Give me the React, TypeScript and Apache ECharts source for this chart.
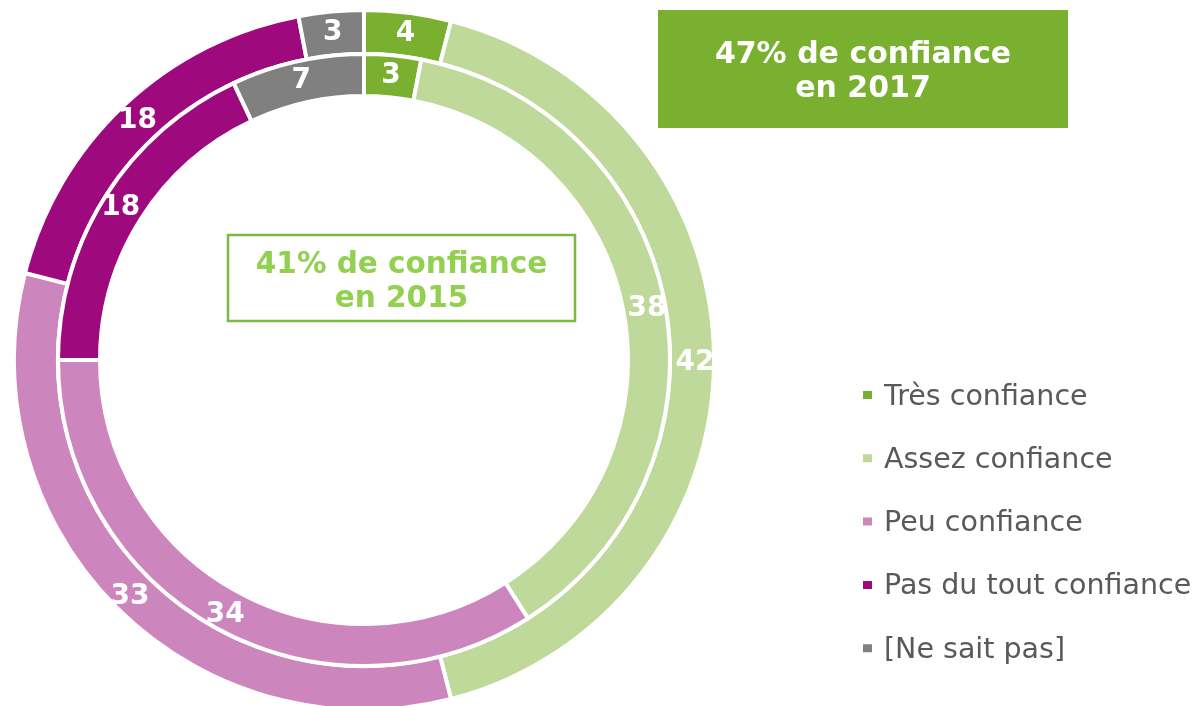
import React, { useEffect, useRef } from "react";
import * as echarts from "echarts";

const categories = ["Très confiance", "Assez confiance", "Peu confiance", "Pas du tout confiance", "[Ne sait pas]"];
const values2017 = [4, 42, 33, 18, 3];
const values2015 = [3, 38, 34, 18, 7];
const colors = ["#7AB030", "#BFD99B", "#CD85BE", "#9E0A7D", "#808080"];
const box2017 = ["47% de confiance", "en 2017"];
const box2015 = ["41% de confiance", "en 2015"];

const FONT = "DejaVu Sans";

export default function App() {
  const ref = useRef<HTMLDivElement>(null);
  useEffect(() => {
    if (!ref.current) return;
    const chart = echarts.init(ref.current, undefined, { renderer: "svg" });
    const mk = (vals: number[]) =>
      categories.map((n, i) => ({ name: n, value: vals[i], itemStyle: { color: colors[i] } }));
    const label = {
      show: true,
      position: "inside",
      formatter: "{c}",
      color: "#ffffff",
      fontSize: 28,
      fontWeight: "bold",
      fontFamily: FONT,
    };
    chart.setOption({
      animation: false,
      legend: {
        orient: "vertical",
        left: 856,
        top: 375,
        itemWidth: 11,
        itemHeight: 10,
        itemGap: 33.3,
        icon: "rect",
        selectedMode: false,
        textStyle: { fontSize: 28.5, color: "#595959", fontFamily: FONT, lineHeight: 30, padding: [0, 0, 0, 6] },
        data: categories,
      },
      series: [
        {
          name: "2017",
          type: "pie",
          center: [364, 360],
          radius: [306, 350],
          startAngle: 90,
          clockwise: true,
          avoidLabelOverlap: false,
          itemStyle: { borderColor: "#ffffff", borderWidth: 4 },
          label,
          labelLine: { show: false },
          emphasis: { disabled: true },
          data: mk(values2017),
        },
        {
          name: "2015",
          type: "pie",
          center: [364, 360],
          radius: [264, 306],
          startAngle: 90,
          clockwise: true,
          avoidLabelOverlap: false,
          itemStyle: { borderColor: "#ffffff", borderWidth: 4 },
          label,
          labelLine: { show: false },
          emphasis: { disabled: true },
          data: mk(values2015),
        },
      ],
      graphic: [
        { type: "rect", shape: { x: 658, y: 10, width: 410, height: 118 }, style: { fill: "#7AB030" } },
        {
          type: "text",
          x: 863,
          y: 52.5,
          style: { text: box2017[0], fill: "#ffffff", font: `bold 30px "${FONT}"`, textAlign: "center", textVerticalAlign: "middle" },
        },
        {
          type: "text",
          x: 863,
          y: 86.5,
          style: { text: box2017[1], fill: "#ffffff", font: `bold 30px "${FONT}"`, textAlign: "center", textVerticalAlign: "middle" },
        },
        {
          type: "rect",
          shape: { x: 228, y: 235, width: 347, height: 86 },
          style: { fill: "#ffffff", stroke: "#7DB844", lineWidth: 2.5 },
        },
        {
          type: "text",
          x: 401.5,
          y: 263,
          style: { text: box2015[0], fill: "#92D050", font: `bold 29.5px "${FONT}"`, textAlign: "center", textVerticalAlign: "middle" },
        },
        {
          type: "text",
          x: 401.5,
          y: 297,
          style: { text: box2015[1], fill: "#92D050", font: `bold 29.5px "${FONT}"`, textAlign: "center", textVerticalAlign: "middle" },
        },
      ],
    });
    return () => chart.dispose();
  }, []);
  return <div ref={ref} style={{ position: "fixed", left: 0, top: 0, width: 1195, height: 706 }} />;
}
